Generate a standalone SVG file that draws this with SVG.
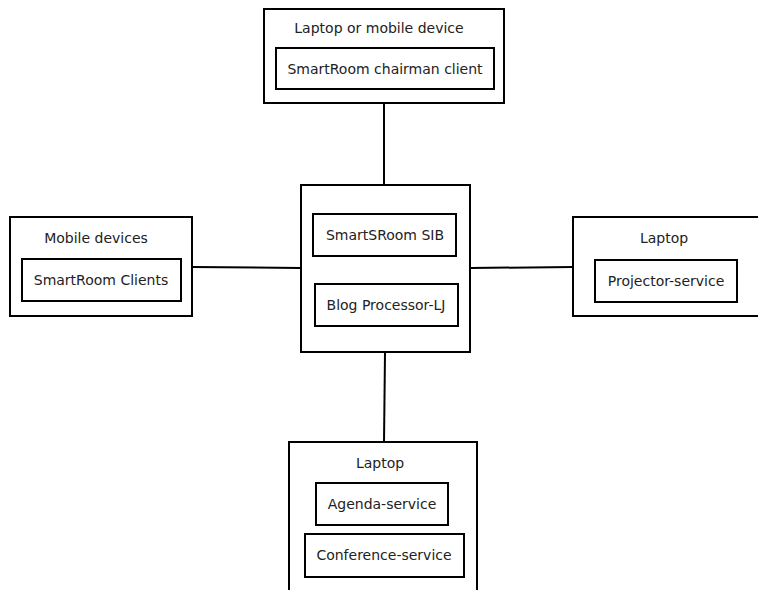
<svg xmlns="http://www.w3.org/2000/svg" width="758" height="590" viewBox="0 0 758 590">
<style>
rect{fill:#fff;stroke:#000;stroke-width:2}
text{font-family:"DejaVu Sans",sans-serif;font-size:14px;fill:#222;text-anchor:middle}
line{stroke:#000;stroke-width:2}
</style>
<rect x="0" y="0" width="758" height="590" style="stroke:none"/>
<g id="connectors">
<line x1="384" y1="103" x2="384" y2="185"/>
<line x1="192" y1="267" x2="300" y2="268"/>
<line x1="471" y1="268" x2="573" y2="267"/>
<line x1="385" y1="353" x2="384" y2="442"/>
</g>
<g id="top">
<rect x="264" y="9" width="240" height="94"/>
<text x="379" y="33">Laptop or mobile device</text>
<rect x="276" y="48" width="218" height="41"/>
<text x="385" y="74">SmartRoom chairman client</text>
</g>
<g id="left">
<rect x="10" y="217" width="182" height="99"/>
<text x="96" y="243">Mobile devices</text>
<rect x="22" y="259" width="159" height="42"/>
<text x="101" y="285">SmartRoom Clients</text>
</g>
<g id="center">
<rect x="301" y="185" width="169" height="167"/>
<rect x="313" y="214" width="143" height="42"/>
<text x="385" y="240">SmartSRoom SIB</text>
<rect x="315" y="284" width="143" height="42"/>
<text x="386" y="310">Blog Processor-LJ</text>
</g>
<g id="right">
<rect x="573" y="217" width="190" height="99"/>
<text x="664" y="243">Laptop</text>
<rect x="595" y="260" width="142" height="42"/>
<text x="666" y="286">Projector-service</text>
</g>
<g id="bottom">
<rect x="289" y="442" width="188" height="160"/>
<text x="380" y="468">Laptop</text>
<rect x="316" y="483" width="132" height="42"/>
<text x="382" y="509">Agenda-service</text>
<rect x="305" y="534" width="159" height="43"/>
<text x="384" y="560">Conference-service</text>
</g>
</svg>
